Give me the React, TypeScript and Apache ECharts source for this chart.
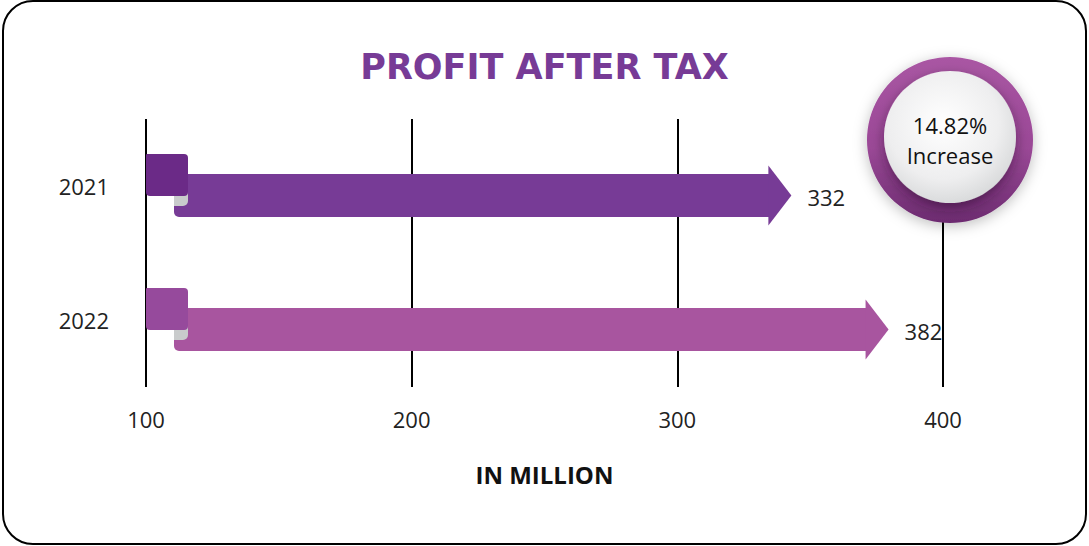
import React, { useEffect, useRef } from "react";
import * as echarts from "echarts";

const years = ["2021", "2022"];
const profit = [332, 382];
const axisTicks = [100, 200, 300, 400];
const increaseText = "14.82%";
const increaseLabel = "Increase";
const titleText = "PROFIT AFTER TAX";
const unitText = "IN MILLION";

const flagColors = ["#6b2a87", "#964a9c"];
const shaftColors = ["#773b96", "#a8559f"];

export default function App() {
  const ref = useRef<HTMLDivElement>(null);
  useEffect(() => {
    if (!ref.current) return;
    const chart = echarts.init(ref.current, null, { renderer: "svg" });
    const data = profit.map((v, i) => [v, i]);
    const font = "'Open Sans', 'Noto Sans', sans-serif";
    chart.setOption({
      animation: false,
      backgroundColor: "#ffffff",
      title: {
        text: titleText,
        left: "center",
        top: 44,
        textStyle: { fontSize: 35, fontWeight: "bold", color: "#773b96", fontFamily: "'DejaVu Sans', sans-serif" },
      },
      grid: { left: 146, right: 146, top: 119, height: 268 },
      xAxis: [
        {
          type: "value",
          min: axisTicks[0],
          max: axisTicks[axisTicks.length - 1],
          interval: 100,
          axisLine: { show: false },
          axisTick: { show: false },
          splitLine: { show: true, lineStyle: { color: "#000", width: 2 } },
          axisLabel: { fontSize: 22, color: "#222", margin: 21, fontFamily: font },
          name: unitText,
          nameLocation: "middle",
          nameGap: 75,
          nameTextStyle: { fontSize: 24, fontWeight: "bold", color: "#111", fontFamily: font },
        },
        { type: "value", min: 0, max: 410, show: false },
      ],
      yAxis: {
        type: "category",
        data: years,
        inverse: true,
        axisLine: { show: false },
        axisTick: { show: false },
        splitLine: { show: false },
        axisLabel: { fontSize: 22, color: "#222", margin: 37, fontFamily: font },
      },
      series: [
        {
          type: "custom",
          xAxisIndex: 1,
          yAxisIndex: 0,
          clip: false,
          data,
          renderItem: (params: any, api: any) => {
            const idx = api.value(1);
            const val = api.value(0);
            const tip = api.coord([val, idx]);
            const start = api.coord([0, idx]);
            const x0 = start[0];
            const cy = tip[1];
            const tx = tip[0];
            const shaftTop = cy - 12;
            const shaftH = 43;
            const mid = shaftTop + shaftH / 2;
            const headLen = 22;
            return {
              type: "group",
              children: [
                {
                  type: "rect",
                  shape: { x: x0 + 28, y: shaftTop, width: tx - headLen - x0 - 28, height: shaftH, r: [0, 0, 0, 5] },
                  style: { fill: shaftColors[idx] },
                },
                {
                  type: "polygon",
                  shape: { points: [[tx - headLen - 1, mid - 30], [tx, mid], [tx - headLen - 1, mid + 30]] },
                  style: { fill: shaftColors[idx] },
                },
                {
                  type: "rect",
                  shape: { x: x0 + 28, y: cy + 6, width: 14, height: 14, r: [0, 0, 5, 0] },
                  style: { fill: "#c9cbcc" },
                },
                {
                  type: "rect",
                  shape: { x: x0, y: cy - 32, width: 42, height: 42, r: [1, 4, 4, 4] },
                  style: { fill: flagColors[idx] },
                },
                {
                  type: "text",
                  style: {
                    x: tx + 16,
                    y: mid + 1,
                    text: String(val),
                    fontSize: 22,
                    fontFamily: font,
                    fill: "#222",
                    align: "left",
                    verticalAlign: "middle",
                  },
                },
              ],
            };
          },
        },
      ],
      graphic: [
        {
          type: "rect",
          shape: { x: 3, y: 1, width: 1083, height: 543, r: 30 },
          style: { fill: "none", stroke: "#000", lineWidth: 2 },
          z: 0,
          silent: true,
        },
        {
          type: "circle",
          shape: { cx: 950, cy: 140, r: 83 },
          style: {
            fill: new echarts.graphic.LinearGradient(0, 0, 0, 1, [
              { offset: 0, color: "#a956a3" },
              { offset: 0.55, color: "#9a4896" },
              { offset: 1, color: "#6c2b70" },
            ]),
            shadowBlur: 14,
            shadowColor: "rgba(0,0,0,0.25)",
            shadowOffsetY: 3,
          },
          z: 100,
        },
        {
          type: "circle",
          shape: { cx: 950, cy: 137, r: 66 },
          style: {
            fill: new echarts.graphic.RadialGradient(0.45, 0.4, 0.7, [
              { offset: 0, color: "#ffffff" },
              { offset: 0.6, color: "#eeeeef" },
              { offset: 1, color: "#cfd1d2" },
            ]),
            shadowBlur: 12,
            shadowColor: "rgba(40,0,40,0.45)",
            shadowOffsetY: 5,
          },
          z: 101,
        },
        {
          type: "text",
          x: 950,
          y: 125,
          style: { text: increaseText, fontSize: 22, fontFamily: font, fill: "#111", align: "center", verticalAlign: "middle" },
          z: 102,
        },
        {
          type: "text",
          x: 950,
          y: 155,
          style: { text: increaseLabel, fontSize: 22, fontFamily: font, fill: "#111", align: "center", verticalAlign: "middle" },
          z: 102,
        },
      ],
    });
    return () => chart.dispose();
  }, []);
  return (
    <div
      ref={ref}
      style={{ position: "fixed", left: 0, top: 0, width: 1089, height: 546, background: "#fff" }}
    />
  );
}
